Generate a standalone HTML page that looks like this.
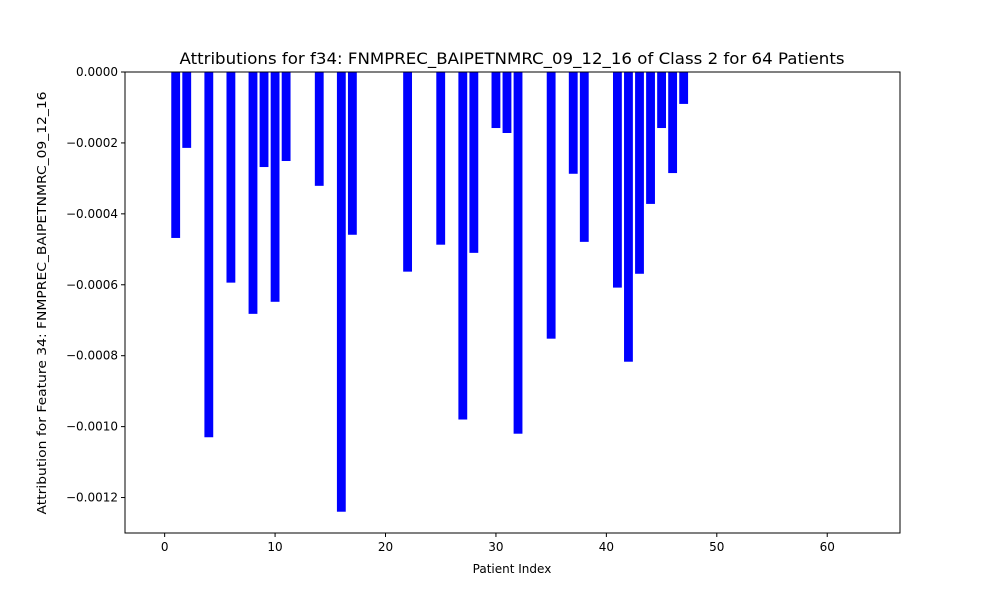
<!DOCTYPE html>
<html><head><meta charset="utf-8"><style>
body{margin:0;background:#fff}
svg text{font-family:"DejaVu Sans","Liberation Sans",sans-serif;fill:#000}
</style></head><body>
<svg id="chart" width="1000" height="600" xmlns="http://www.w3.org/2000/svg">
<text x="512" y="64" font-size="16" text-anchor="middle" textLength="665" lengthAdjust="spacingAndGlyphs">Attributions for f34: FNMPREC_BAIPETNMRC_09_12_16 of Class 2 for 64 Patients</text>
<text x="512" y="573" font-size="12" text-anchor="middle">Patient Index</text>
<text transform="translate(46,303) rotate(-90)" font-size="12" text-anchor="middle" textLength="423" lengthAdjust="spacingAndGlyphs">Attribution for Feature 34: FNMPREC_BAIPETNMRC_09_12_16</text>
<g id="bars"></g>
<g id="axes"></g>
</svg>
<script>
const patientIdx = [1,2,4,6,8,9,10,11,14,16,17,22,25,27,28,30,31,32,35,37,38,41,42,43,44,45,46,47];
const attrValues = [-0.000468,-0.000214,-0.00103,-0.000594,-0.000682,-0.000268,-0.000648,-0.000251,-0.000321,-0.00124,-0.000459,-0.000563,-0.000487,-0.00098,-0.00051,-0.000158,-0.000172,-0.00102,-0.000752,-0.000287,-0.000479,-0.000608,-0.000817,-0.000569,-0.000372,-0.000158,-0.000285,-0.00009];
const xTicks = [0,10,20,30,40,50,60];
const yTicks = [0,-0.0002,-0.0004,-0.0006,-0.0008,-0.0010,-0.0012];
const yTickLabels = ["0.0000","\u22120.0002","\u22120.0004","\u22120.0006","\u22120.0008","\u22120.0010","\u22120.0012"];
const NS="http://www.w3.org/2000/svg";
const L=125,R=900,T=72,B=533;
const xMin=-3.59,xMax=66.59,yMin=-0.0013,yMax=0;
function xs(v){return L+(v-xMin)/(xMax-xMin)*(R-L);}
function ys(v){return T+(yMax-v)/(yMax-yMin)*(B-T);}
function mk(t,a,p){const e=document.createElementNS(NS,t);for(const k in a)e.setAttribute(k,a[k]);p.appendChild(e);return e;}
const bars=document.getElementById('bars'),axes=document.getElementById('axes');
patientIdx.forEach((p,i)=>{
  const v=attrValues[i];
  const x0=xs(p-0.4),x1=xs(p+0.4);
  const r=mk('rect',{x:x0,y:ys(0),width:x1-x0,height:ys(v)-ys(0),fill:'#0000ff'},bars);
  
  
});
const f=mk('rect',{x:L,y:T,width:R-L,height:B-T,fill:'none',stroke:'#000','stroke-width':1},axes);


xTicks.forEach(t=>{
  const x=xs(t);
  mk('line',{x1:x,x2:x,y1:B,y2:B+4,stroke:'#000'},axes);
  const tx=mk('text',{x:x,y:B+18,'font-size':12,'text-anchor':'middle'},axes);
  tx.textContent=t;
  
  
});
yTicks.forEach((t,i)=>{
  const y=ys(t);
  mk('line',{x1:L-4,x2:L,y1:y,y2:y,stroke:'#000'},axes);
  const tx=mk('text',{x:L-7,y:y+4,'font-size':12,'text-anchor':'end'},axes);
  tx.textContent=yTickLabels[i];
  
  
});
</script>
</body></html>
